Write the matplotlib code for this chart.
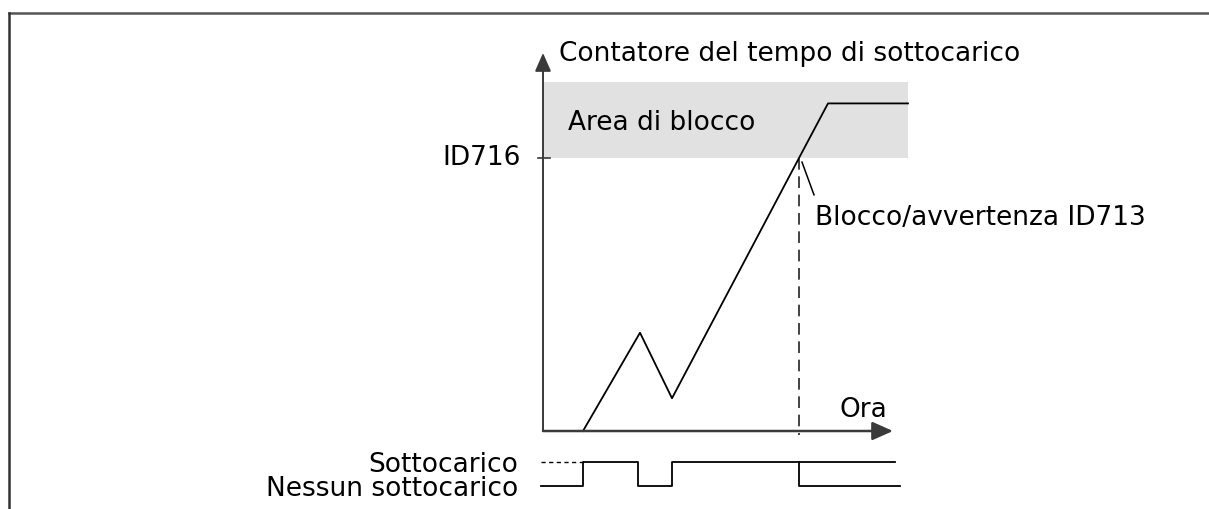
import matplotlib.pyplot as plt
from matplotlib.lines import Line2D

# Underload time counter (arbitrary units, ID716 threshold = 100)
time = [4.0, 9.7, 12.9, 25.6, 28.5, 36.5]
counter = [0, 36, 12, 100, 120, 120]
trip_level = 100          # ID716
block_top = 128
trip_time = 25.6          # ID713 reached

# Underload signal (1 = underload, 0 = no underload)
sig_time = [-0.2, 4.0, 9.5, 12.9, 25.6, 35.7]
sig_state = [0, 1, 0, 1, 0, 0]
sig_high_end = 35.2

labels = {
    'ylabel': 'Contatore del tempo di sottocarico',
    'xlabel': 'Ora',
    'area': 'Area di blocco',
    'tick': 'ID716',
    'note': 'Blocco/avvertenza ID713',
    'hi': 'Sottocarico',
    'lo': 'Nessun sottocarico',
}

plt.rcParams['font.family'] = 'DejaVu Sans'
fs = 19
dark = '#222222'
axis_col = '#3a3a3a'

fig = plt.figure(figsize=(12.09, 5.09), dpi=100)

# main diagram - origin at pixel (543, 431), 10 px per x unit, 2.73 px per y unit
ax = fig.add_axes([0, 0, 1, 1])
ax.set_xlim(-54.3, 66.6)
ax.set_ylim(-28.57, 157.88)
ax.axis('off')

ax.fill_between([0, time[-1]], trip_level, block_top, color='#e1e1e1', lw=0, zorder=0)
ax.plot(time, counter, color='black', lw=1.3, zorder=3)
ax.plot([trip_time, trip_time], [trip_level, -1.5], color=dark, lw=1.2, ls=(0, (7, 4)), zorder=2)

# axes with arrows
ax.annotate('', xy=(35.0, 0), xytext=(0, 0),
            arrowprops=dict(arrowstyle='-|>,head_length=0.9,head_width=0.4', color=axis_col,
                            lw=1.8, shrinkA=0, shrinkB=0, mutation_scale=14))
ax.annotate('', xy=(0, 138.5), xytext=(0, 0),
            arrowprops=dict(arrowstyle='-|>,head_length=0.8,head_width=0.35', color=axis_col,
                            lw=1.4, shrinkA=0, shrinkB=0, mutation_scale=14))
ax.plot([-0.5, 0.7], [trip_level, trip_level], color=axis_col, lw=1.2)

ax.text(1.6, 138.2, labels['ylabel'], fontsize=fs, ha='left', va='center', color='black')
ax.text(2.5, 112.8, labels['area'], fontsize=fs, ha='left', va='center', color='black')
ax.text(-2.2, trip_level, labels['tick'], fontsize=fs, ha='right', va='center', color='black')
ax.text(34.4, 5.1, labels['xlabel'], fontsize=fs, ha='right', va='baseline', color='black')

# note pointer
ax.plot([25.9, 27.1], [98.5, 86.5], color='black', lw=1.1)
ax.text(27.2, 75.5, labels['note'], fontsize=fs, ha='left', va='baseline', color='black')

# underload signal
ax2 = fig.add_axes([0, 0, 1, 78 / 509])
ax2.set_xlim(-54.3, 66.6)
ax2.set_ylim(-0.958, 2.292)
ax2.axis('off')
ax2.step(sig_time, sig_state, where='post', color='black', lw=1.3)
ax2.plot([sig_time[4], sig_high_end], [1, 1], color='black', lw=1.3)
ax2.plot([sig_time[0], sig_time[1]], [1, 1], color='black', lw=1.0, ls=(0, (3, 2.5)))
ax2.text(-2.5, 1, labels['hi'], fontsize=fs, ha='right', va='center_baseline', color='black')
ax2.text(-2.5, 0, labels['lo'], fontsize=fs, ha='right', va='center_baseline', color='black')

# outer frame (top and left only)
fig.add_artist(Line2D([9 / 1209, 1], [1 - 13 / 509, 1 - 13 / 509], color='#555555', lw=1.8))
fig.add_artist(Line2D([9 / 1209, 9 / 1209], [0, 1 - 13 / 509], color='#333333', lw=1.8))

fig.savefig('out.png', dpi=100)
